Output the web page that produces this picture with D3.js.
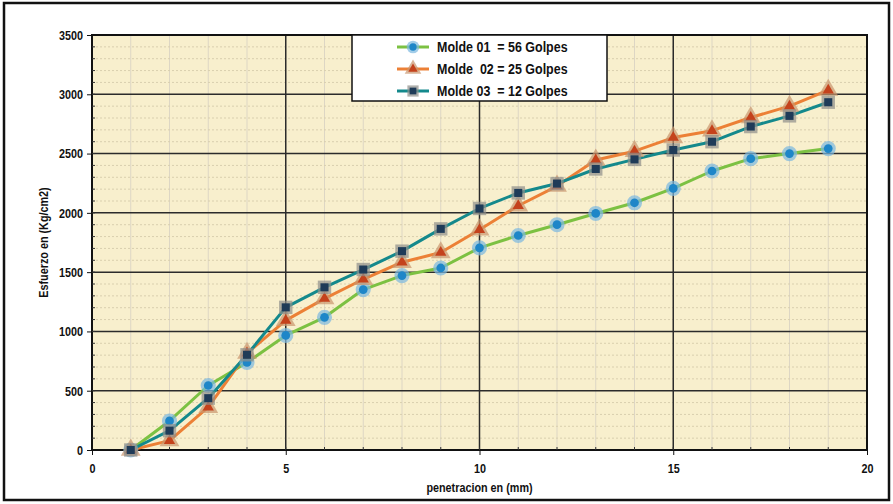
<!DOCTYPE html>
<html>
<head>
<meta charset="utf-8">
<script src="https://cdn.jsdelivr.net/npm/d3@7/dist/d3.min.js"></script>
<style>
  body { margin: 0; background: #fff; }
  svg { display: block; }
  text { font-family: "Liberation Sans", Arial, sans-serif; fill: #111; white-space: pre; }
</style>
</head>
<body>
<svg id="chart" width="893" height="504"></svg>
<script>
// Penetration readings (mm)
const penetracion = [1, 2, 3, 4, 5, 6, 7, 8, 9, 10, 11, 12, 13, 14, 15, 16, 17, 18, 19];

// Stress readings (Kg/cm2) for each mould
const molde01 = [0, 245, 544, 738, 966, 1119, 1353, 1471, 1535, 1705, 1809, 1900, 1995, 2085, 2206, 2353, 2457, 2500, 2542];
const molde02 = [0, 79, 361, 817, 1093, 1277, 1440, 1584, 1665, 1858, 2060, 2226, 2446, 2520, 2635, 2693, 2804, 2900, 3035];
const molde03 = [0, 163, 437, 803, 1203, 1372, 1522, 1677, 1865, 2037, 2168, 2247, 2370, 2451, 2530, 2600, 2728, 2818, 2933];

const seriesNames = ["Molde 01  = 56 Golpes", "Molde  02 = 25 Golpes", "Molde 03  = 12 Golpes"];

const xTicks = [0, 5, 10, 15, 20];
const yTicks = [0, 500, 1000, 1500, 2000, 2500, 3000, 3500];

const series = [
  { name: seriesNames[0], values: molde01, line: "#7cc142", fill: "#1e86c8", halo: "#7ab8e0", shape: d3.symbolCircle, size: 60, haloSize: 180 },
  { name: seriesNames[1], values: molde02, line: "#ec8036", fill: "#c4421c", halo: "#c9966e", shape: d3.symbolTriangle, size: 55, haloSize: 170 },
  { name: seriesNames[2], values: molde03, line: "#14898c", fill: "#1f3b58", halo: "#8f8f8a", shape: d3.symbolSquare, size: 65, haloSize: 180 }
];

const svg = d3.select("#chart");
const M = { left: 92, right: 867, top: 35, bottom: 450 };
const labelFont = "'Liberation Sans', Arial, sans-serif";
const NARROW = 0.8;   // horizontal squeeze for a condensed look
const FS = 13.5;

const x = d3.scaleLinear().domain([0, 20]).range([M.left, M.right]);
const y = d3.scaleLinear().domain([0, 3500]).range([M.bottom, M.top]);

// outer frame
svg.append("rect").attr("x", 4).attr("y", 3).attr("width", 885).attr("height", 497)
  .attr("fill", "#fff").attr("stroke", "#111").attr("stroke-width", 2.5);

// plot background
svg.append("rect").attr("x", M.left).attr("y", M.top)
  .attr("width", M.right - M.left).attr("height", M.bottom - M.top)
  .attr("fill", "#f8efcd");

const grid = svg.append("g");
// minor grid
grid.selectAll("line.vmin").data(d3.range(1, 20).filter(v => v % 5 !== 0)).join("line")
  .attr("x1", d => x(d)).attr("x2", d => x(d)).attr("y1", M.top).attr("y2", M.bottom)
  .attr("stroke", "#ddd6c4").attr("stroke-width", 1);
grid.selectAll("line.hmin").data(d3.range(100, 3500, 100).filter(v => v % 500 !== 0)).join("line")
  .attr("x1", M.left).attr("x2", M.right).attr("y1", d => y(d)).attr("y2", d => y(d))
  .attr("stroke", "#d9cfae").attr("stroke-width", 1).attr("stroke-dasharray", "2,2");
// major grid
grid.selectAll("line.vmaj").data(xTicks.slice(1, -1)).join("line")
  .attr("x1", d => x(d)).attr("x2", d => x(d)).attr("y1", M.top).attr("y2", M.bottom)
  .attr("stroke", "#2b2b2b").attr("stroke-width", 1.5);
grid.selectAll("line.hmaj").data(yTicks.slice(1, -1)).join("line")
  .attr("x1", M.left).attr("x2", M.right).attr("y1", d => y(d)).attr("y2", d => y(d))
  .attr("stroke", "#2b2b2b").attr("stroke-width", 1.5);

// plot border
svg.append("rect").attr("x", M.left).attr("y", M.top)
  .attr("width", M.right - M.left).attr("height", M.bottom - M.top)
  .attr("fill", "none").attr("stroke", "#111").attr("stroke-width", 2);

// axes
const yAxis = svg.append("g").attr("transform", `translate(${M.left},0)`)
  .call(d3.axisLeft(y).tickValues(yTicks).tickSize(5).tickPadding(8).tickFormat(d3.format("d")));
const xAxis = svg.append("g").attr("transform", `translate(0,${M.bottom})`)
  .call(d3.axisBottom(x).tickValues(xTicks).tickSize(5).tickPadding(8).tickFormat(d3.format("d")));
[yAxis, xAxis].forEach(a => {
  a.select(".domain").remove();
  a.selectAll(".tick line").attr("stroke", "#111");
  a.selectAll(".tick text").attr("font-size", FS).attr("font-weight", "bold")
    .attr("transform", `scale(${NARROW},1)`)
    .attr("font-family", labelFont).attr("fill", "#111");
});
yAxis.selectAll(".tick text").attr("x", -9 / NARROW);
// minor inside ticks
svg.append("g").selectAll("line").data(d3.range(100, 3500, 100)).join("line")
  .attr("x1", M.left).attr("x2", M.left + 3).attr("y1", d => y(d)).attr("y2", d => y(d))
  .attr("stroke", "#333").attr("stroke-width", 1);
svg.append("g").selectAll("line").data(d3.range(1, 20)).join("line")
  .attr("x1", d => x(d)).attr("x2", d => x(d)).attr("y1", M.bottom).attr("y2", M.bottom - 3)
  .attr("stroke", "#333").attr("stroke-width", 1);

// axis titles
svg.append("text").attr("transform", `translate(${x(10)},492) scale(${NARROW},1)`)
  .attr("text-anchor", "middle")
  .attr("font-size", FS).attr("font-weight", "bold")
  .attr("font-family", labelFont)
  .text("penetracion en (mm)");
svg.append("text").attr("transform", `translate(48,${(M.top + M.bottom) / 2}) rotate(-90) scale(${NARROW},1)`)
  .attr("text-anchor", "middle").attr("font-size", FS).attr("font-weight", "bold")
  .attr("font-family", labelFont)
  .text("Esfuerzo en (Kg/cm2)");

// series lines and markers
const line = d3.line().x((d, i) => x(penetracion[i])).y(d => y(d));
const plot = svg.append("g");
series.forEach(s => {
  plot.append("path").datum(s.values).attr("d", line)
    .attr("fill", "none").attr("stroke", s.line).attr("stroke-width", 3).attr("stroke-linejoin", "round");
});
series.forEach(s => {
  const g = plot.append("g");
  g.selectAll("path.halo").data(s.values).join("path")
    .attr("transform", (d, i) => `translate(${x(penetracion[i])},${y(d)})`)
    .attr("d", d3.symbol(s.shape, s.haloSize)).attr("fill", s.halo).attr("opacity", 0.7);
  g.selectAll("path.mark").data(s.values).join("path")
    .attr("transform", (d, i) => `translate(${x(penetracion[i])},${y(d)})`)
    .attr("d", d3.symbol(s.shape, s.size)).attr("fill", s.fill);
});

// legend
const lg = svg.append("g");
lg.append("rect").attr("x", 352).attr("y", 35).attr("width", 255).attr("height", 66)
  .attr("fill", "#fff").attr("stroke", "#111").attr("stroke-width", 1.5);
series.forEach((s, i) => {
  const cy = 47 + i * 22;
  lg.append("line").attr("x1", 397).attr("x2", 429).attr("y1", cy).attr("y2", cy)
    .attr("stroke", s.line).attr("stroke-width", 3);
  lg.append("path").attr("transform", `translate(413,${cy})`)
    .attr("d", d3.symbol(s.shape, s.haloSize * 0.7)).attr("fill", s.halo).attr("opacity", 0.7);
  lg.append("path").attr("transform", `translate(413,${cy})`)
    .attr("d", d3.symbol(s.shape, s.size * 0.7)).attr("fill", s.fill);
  lg.append("text").attr("transform", `translate(437,${cy + 5}) scale(0.86,1)`)
    .attr("font-size", 14.5).attr("font-weight", "bold")
    .attr("font-family", labelFont)
    .text(s.name);
});
</script>
</body>
</html>
